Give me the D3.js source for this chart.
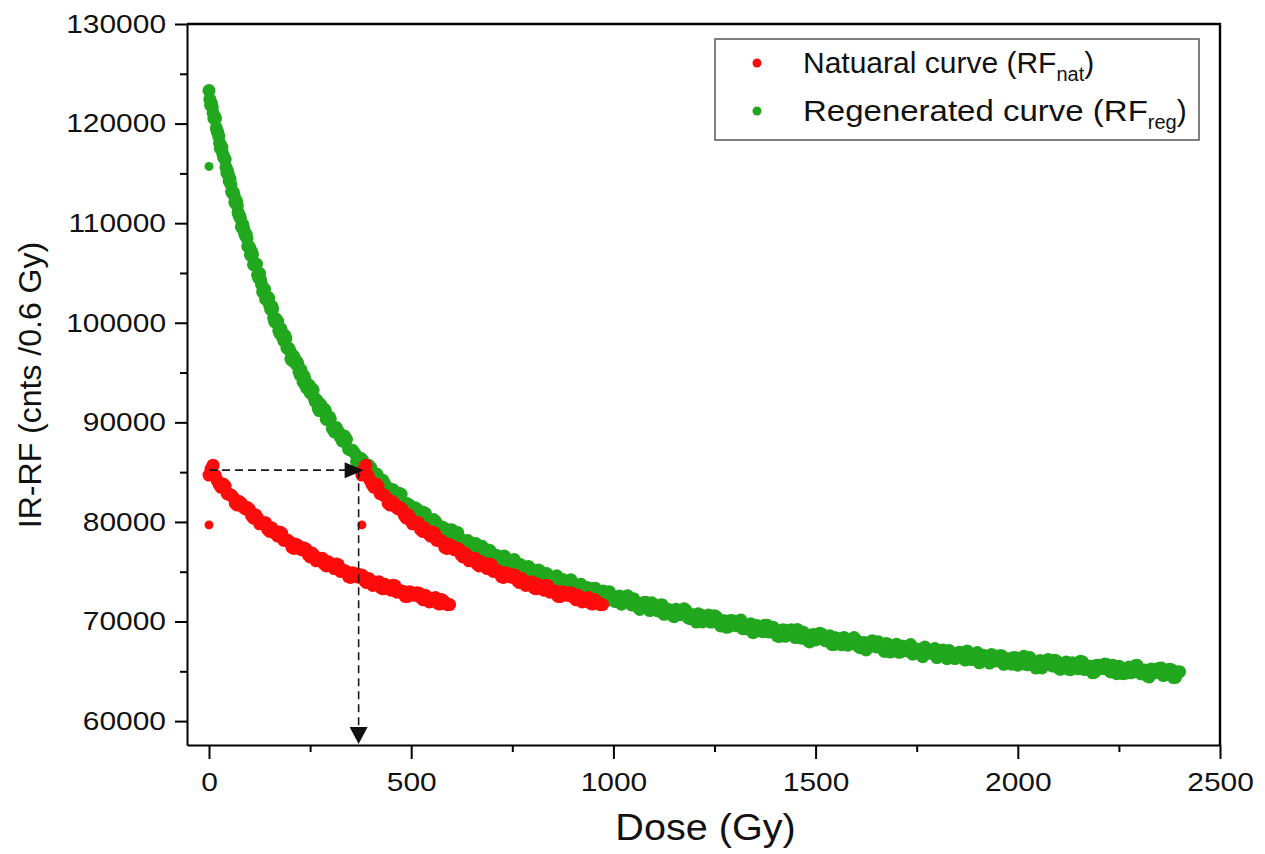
<!DOCTYPE html>
<html>
<head>
<meta charset="utf-8">
<script src="https://cdn.jsdelivr.net/npm/d3@7.9.0/dist/d3.min.js"></script>
<style>
  body { margin: 0; background: #fff; }
  svg { display: block; font-family: "Liberation Sans", Arial, sans-serif; }
</style>
</head>
<body>
<svg id="chart" width="1265" height="854"></svg>
<script>
// --- data: [dose (Gy), IR-RF counts] ---
const regCurve = [
  [0,123310],[4,121830],[8,121670],[12,120510],[16,120520],[20,119240],[24,118740],[28,117520],[32,117590],[36,116630],
  [40,116400],[44,115060],[48,114880],[52,114460],[56,113120],[60,113110],[64,112090],[68,112230],[72,111090],[76,110720],
  [80,109630],[84,109830],[88,109000],[92,108890],[96,107670],[100,107610],[105,107180],[110,105840],[115,105830],[120,104810],
  [125,104960],[130,103820],[135,103450],[140,102370],[145,102580],[150,101760],[155,101670],[160,100460],[165,100420],[170,100130],
  [175,98930],[180,99050],[185,98170],[190,98440],[195,97420],[200,97190],[205,96230],[210,96550],[215,95850],[220,95870],
  [225,94770],[230,94840],[235,94650],[240,93560],[245,93770],[250,92990],[255,93360],[260,92440],[265,92290],[270,91420],
  [275,91840],[280,91220],[285,91330],[290,90310],[295,90460],[300,90350],[310,89040],[320,89070],[330,88100],[340,88300],
  [350,87220],[360,86920],[370,85910],[380,86190],[390,85450],[400,85450],[410,84330],[420,84380],[430,84180],[440,83070],
  [450,83290],[460,82510],[470,82890],[480,81970],[490,81840],[500,80990],[510,81420],[520,80830],[530,80960],[540,79970],
  [550,80150],[560,80070],[570,79080],[580,79410],[590,78740],[600,79220],[610,78410],[620,78370],[630,77610],[640,78130],
  [650,77620],[660,77830],[670,76920],[680,77180],[690,77170],[700,76260],[710,76650],[720,76040],[730,76590],[740,75830],
  [750,75850],[760,75150],[770,75730],[780,75270],[790,75530],[800,74670],[810,74970],[820,75010],[830,74130],[840,74570],
  [850,74000],[860,74590],[870,73870],[880,73930],[890,73260],[900,73870],[910,73440],[920,73740],[930,72910],[940,73240],
  [950,73310],[960,72470],[970,72930],[980,72390],[990,73000],[1000,72310],[1010,72390],[1020,71740],[1030,72380],[1040,71980],
  [1050,72290],[1060,71480],[1070,71840],[1080,71930],[1090,71100],[1100,71590],[1110,71060],[1120,71690],[1130,71020],[1140,71120],
  [1150,70490],[1160,71140],[1170,70750],[1180,71090],[1190,70290],[1200,70660],[1210,70770],[1220,69950],[1230,70450],[1240,69940],
  [1250,70590],[1260,69930],[1270,70040],[1280,69420],[1290,70090],[1300,69710],[1310,70060],[1320,69280],[1330,69650],[1340,69770],
  [1350,68970],[1360,69480],[1370,68980],[1380,69630],[1390,68990],[1400,69110],[1410,68500],[1420,69180],[1430,68810],[1440,69170],
  [1450,68390],[1460,68780],[1470,68910],[1480,68120],[1490,68640],[1500,68150],[1510,68810],[1520,68170],[1530,68300],[1540,67700],
  [1550,68380],[1560,68030],[1570,68390],[1580,67620],[1590,68020],[1600,68150],[1610,67370],[1620,67900],[1630,67410],[1640,68080],
  [1650,67450],[1660,67590],[1670,67000],[1680,67690],[1690,67340],[1700,67710],[1710,66950],[1720,67350],[1730,67490],[1740,66710],
  [1750,67250],[1760,66770],[1770,67440],[1780,66820],[1790,66960],[1800,66380],[1810,67070],[1820,66730],[1830,67100],[1840,66350],
  [1850,66760],[1860,66900],[1870,66130],[1880,66670],[1890,66200],[1900,66880],[1910,66260],[1920,66410],[1930,65830],[1940,66530],
  [1950,66190],[1960,66570],[1970,65820],[1980,66230],[1990,66390],[2000,65620],[2010,66160],[2020,65700],[2030,66380],[2040,65760],
  [2050,65920],[2060,65340],[2070,66050],[2080,65710],[2090,66100],[2100,65350],[2110,65770],[2120,65930],[2130,65160],[2140,65710],
  [2150,65250],[2160,65940],[2170,65330],[2180,65480],[2190,64910],[2200,65620],[2210,65290],[2220,65680],[2230,64940],[2240,65360],
  [2250,65520],[2260,64760],[2270,65310],[2280,64850],[2290,65550],[2300,64940],[2310,65100],[2320,64530],[2330,65240],[2340,64920],
  [2350,65310],[2360,64570],[2370,65000],[2380,65160],[2390,64400],[2400,64960]
];

// in-between readings of the same band
const regCurveMid = [
  [2,122435],[6,122025],[10,121070],[14,120690],[18,119570],[22,119070],[26,118060],[30,117780],[34,116970],[38,116550],
  [42,115600],[46,115250],[50,114220],[54,113910],[58,113050],[62,112800],[66,111990],[70,111760],[74,110790],[78,110430],
  [82,109560],[86,109420],[90,108750],[94,108460],[98,107640],
  [102.5,106800],[107.5,106860],[112.5,105820],[117.5,105900],[122.5,104500],[127.5,104320],[132.5,103110],[137.5,103360],
  [142.5,102530],[147.5,102470],[152.5,101340],[157.5,101390],[162.5,100080],[167.5,100190],[172.5,99210],[177.5,99410],
  [182.5,98510],[187.5,98730],[192.5,97470],[197.5,97430],[202.5,96360],[207.5,96740],[212.5,96030],[217.5,96100],
  [222.5,95090],[227.5,95260],[232.5,94060],[237.5,94290],[242.5,93420],[247.5,93730],[252.5,92940],[257.5,93260],
  [262.5,92100],[267.5,92160],[272.5,91180],[277.5,91660],[282.5,91040],[287.5,91200],[292.5,90280],[297.5,90540],
  [305,89370],[315,89480],[325,88490],[335,88630],[345,87300],[355,87190],[365,86060],[375,86400],[385,85650],[395,85690],
  [405,84650],[415,84810],[425,83590],[435,83810],[445,82930],[455,83240],[465,82460],[475,82790],[485,81640],[495,81710],
  [505,80760],[515,81260],[525,80660],[535,80850],[545,79950],[555,80240],[565,79160],[575,79510],[585,78750],[595,79180],
  [605,78500],[615,78940],[625,77900],[635,78070],[645,77210],[655,77800],[665,77290],[675,77570],[685,76750],[695,77120],
  [705,76110],[715,76530],[725,75840],[735,76340],[745,75730],[755,76230],[765,75250],[775,75480],[785,74670],[795,75310],
  [805,74860],[815,75180],[825,74420],[835,74830],[845,73870],[855,74330],[865,73690],[875,74220],[885,73650],[895,74190],
  [905,73250],[915,73510],[925,72740],[935,73420],[945,73000],[955,73350],[965,72620],[975,73060],[985,72130],[995,72620],
  [1005,72000],[1015,72570],[1025,72020],[1035,72590],[1045,71670],[1055,71950],[1065,71210],[1075,71910],[1085,71510],[1095,71880],
  [1105,71170],[1115,71640],[1125,70720],[1135,71230],[1145,70630],[1155,71220],[1165,70690],[1175,71270],[1185,70370],[1195,70670],
  [1205,69940],[1215,70660],[1225,70270],[1235,70660],[1245,69970],[1255,70450],[1265,69550],[1275,70070],[1285,69490],[1295,70080],
  [1305,69570],[1315,70160],[1325,69270],[1335,69590],[1345,68870],[1355,69600],[1365,69230],[1375,69630],[1385,68940],[1395,69430],
  [1405,68550],[1415,69080],[1425,68510],[1435,69110],[1445,68610],[1455,69210],[1465,68330],[1475,68660],[1485,67950],[1495,68690],
  [1505,68330],[1515,68740],[1525,68060],[1535,68560],[1545,67680],[1555,68230],[1565,67660],[1575,68270],[1585,67780],[1595,68390],
  [1605,67520],[1615,67850],[1625,67150],[1635,67900],[1645,67540],[1655,67960],[1665,67290],[1675,67800],[1685,66930],[1695,67480],
  [1705,66920],[1715,67540],[1725,67060],[1735,67680],[1745,66810],[1755,67150],[1765,66460],[1775,67210],[1785,66860],[1795,67290],
  [1805,66620],[1815,67140],[1825,66270],[1835,66830],[1845,66280],[1855,66910],[1865,66420],[1875,67050],[1885,66190],[1895,66540],
  [1905,65850],[1915,66610],[1925,66270],[1935,66700],[1945,66040],[1955,66560],[1965,65700],[1975,66260],[1985,65720],[1995,66350],
  [2005,65870],[2015,66500],[2025,65650],[2035,66000],[2045,65320],[2055,66080],[2065,65750],[2075,66180],[2085,65530],[2095,66050],
  [2105,65200],[2115,65760],[2125,65220],[2135,65860],[2145,65390],[2155,66020],[2165,65170],[2175,65530],[2185,64850],[2195,65620],
  [2205,65290],[2215,65730],[2225,65080],[2235,65610],[2245,64760],[2255,65330],[2265,64790],[2275,65430],[2285,64960],[2295,65600],
  [2305,64750],[2315,65120],[2325,64440],[2335,65210],[2345,64880],[2355,65330],[2365,64680],[2375,65210],[2385,64370],[2395,64940]
];

const natCurve = [
  [0,84700],[10,85700],[20,84190],[30,83470],[40,83610],[50,82760],[60,82480],[70,81690],[80,81870],[90,81310],
  [100,81270],[110,80370],[120,80410],[130,79830],[140,79910],[150,79040],[160,79150],[170,78580],[180,78860],[190,78150],
  [200,77990],[210,77340],[220,77640],[230,77200],[240,77280],[250,76490],[260,76640],[270,76170],[280,76360],[290,75580],
  [300,75800],[310,75320],[320,75690],[330,75070],[340,75000],[350,74430],[360,74820],[370,74450],[380,74620],[390,73910],
  [400,74130],[410,73730],[420,73990],[430,73280],[440,73560],[450,73140],[460,73580],[470,73020],[480,73010],[490,72500],
  [500,72940],[510,72630],[520,72840],[530,72180],[540,72460],[550,72100],[560,72410],[570,71750],[580,72070],[590,71690],
  [595,71700]
];

const natCurveMid = [
  [5,85300],[15,84700],[25,83770],[35,83820],[45,82840],[55,82700],[65,81860],[75,82050],[85,81470],[95,81440],
  [105,80650],[115,80710],[125,79810],[135,79910],[145,79250],[155,79410],[165,78810],[175,79000],[185,78150],[195,78150],
  [205,77440],[215,77750],[225,77300],[235,77390],[245,76720],[255,76880],[265,76090],[275,76300],[285,75750],[295,76000],
  [305,75500],[315,75780],[325,75030],[335,75120],[345,74500],[355,74890],[365,74520],[375,74690],[385,74090],[395,74330],
  [405,73620],[415,73900],[425,73410],[435,73740],[445,73300],[455,73640],[465,72950],[475,73100],[485,72530],[495,72980],
  [505,72660],[515,72890],[525,72340],[535,72630],[545,71970],[555,72290],[565,71850],[575,72220],[585,71830]
];

// stray first-channel readings
const regOutliers = [[0,115700]];
const natOutliers = [[0,79700]];

// natural curve slid along the dose axis onto the regenerated curve
const natShift = 378;
const equivDose = 370;
const natSignal = 85200;

const xTicks = [0, 500, 1000, 1500, 2000, 2500];
const xMinor = [250, 750, 1250, 1750, 2250];
const yTicks = [60000, 70000, 80000, 90000, 100000, 110000, 120000, 130000];
const yMinor = [65000, 75000, 85000, 95000, 105000, 115000, 125000];

const legendItems = [
  { label: 'Natuaral curve (RF', sub: 'nat', color: '#ff0b0b', widen: 1.0 },
  { label: 'Regenerated curve (RF', sub: 'reg', color: '#21a81e', widen: 1.1 },
];

// --- layout ---
const plotLeft = 187, plotRight = 1220, plotTop = 24, plotBottom = 745;
const dotR = 6.5, strayR = 4.5;

const x = d3.scaleLinear().domain([-54.4, 2500]).range([plotLeft, plotRight]);
const y = d3.scaleLinear().domain([57600, 130000]).range([plotBottom, plotTop]);

const svg = d3.select('#chart');

// widen glyphs a little, the source figure was stretched sideways
function stretch(sel, k) {
  sel.each(function () {
    const w = this.getComputedTextLength();
    d3.select(this).attr('textLength', w * k).attr('lengthAdjust', 'spacingAndGlyphs');
  });
}

function drawDots(data, r, color) {
  svg.append('g')
    .selectAll('circle')
    .data(data)
    .join('circle')
    .attr('cx', d => x(d[0]))
    .attr('cy', d => y(d[1]))
    .attr('r', r)
    .attr('fill', color);
}

const shifted = pts => pts.map(d => [d[0] + natShift, d[1]]);

// regenerated curve first, natural points drawn over it
const green = legendItems[1].color, red = legendItems[0].color;
drawDots(regCurve.concat(regCurveMid), dotR, green);
drawDots(regOutliers, strayR, green);

const natPoints = natCurve.concat(natCurveMid);
drawDots(natPoints.concat(shifted(natPoints)), dotR, red);
drawDots(natOutliers.concat(shifted(natOutliers)), strayR, red);

// --- dashed arrows (natural signal -> equivalent dose) ---
const arrows = svg.append('g')
  .attr('stroke', '#1a1a1a')
  .attr('stroke-width', 1.6)
  .attr('stroke-dasharray', '8,5')
  .attr('fill', 'none');

const ax = x(equivDose), ay = y(natSignal);
arrows.append('line')
  .attr('x1', x(0)).attr('y1', ay)
  .attr('x2', ax - 4).attr('y2', ay);
arrows.append('line')
  .attr('x1', ax).attr('y1', ay)
  .attr('x2', ax).attr('y2', plotBottom - 16);

svg.append('path')
  .attr('d', `M${ax - 14},${ay - 8}L${ax + 5},${ay}L${ax - 14},${ay + 8}Z`)
  .attr('fill', '#111');
svg.append('path')
  .attr('d', `M${ax - 9},${plotBottom - 18}L${ax + 9},${plotBottom - 18}L${ax},${plotBottom - 1}Z`)
  .attr('fill', '#111');

// --- axes ---
svg.append('g')
  .attr('transform', `translate(0,${plotBottom})`)
  .call(d3.axisBottom(x).tickValues(xTicks).tickSize(14).tickSizeOuter(0).tickPadding(14).tickFormat(d3.format('d')));

svg.append('g')
  .attr('transform', `translate(0,${plotBottom})`)
  .call(d3.axisBottom(x).tickValues(xMinor).tickSize(7).tickSizeOuter(0).tickFormat(''))
  .select('.domain').remove();

svg.append('g')
  .attr('transform', `translate(${plotLeft},0)`)
  .call(d3.axisLeft(y).tickValues(yTicks).tickSize(12).tickSizeOuter(0).tickPadding(9).tickFormat(d3.format('d')));

svg.append('g')
  .attr('transform', `translate(${plotLeft},0)`)
  .call(d3.axisLeft(y).tickValues(yMinor).tickSize(7).tickSizeOuter(0).tickFormat(''))
  .select('.domain').remove();

svg.selectAll('.domain, .tick line')
  .attr('stroke', '#000')
  .attr('stroke-width', 2);

svg.selectAll('.tick text')
  .attr('fill', '#111')
  .style('font-size', '26px')
  .style('font-family', '"Liberation Sans", Arial, sans-serif')
  .call(stretch, 1.15);

// top and right frame
svg.append('path')
  .attr('d', `M${plotLeft},${plotTop}H${plotRight}V${plotBottom}`)
  .attr('fill', 'none')
  .attr('stroke', '#000')
  .attr('stroke-width', 2.4);

// --- axis titles ---
svg.append('text')
  .attr('x', (plotLeft + plotRight) / 2 + 2)
  .attr('y', 840)
  .attr('text-anchor', 'middle')
  .style('font-size', '36px')
  .attr('fill', '#111')
  .text('Dose (Gy)')
  .call(stretch, 1.1);

svg.append('text')
  .attr('transform', `translate(41,385) rotate(-90)`)
  .attr('text-anchor', 'middle')
  .style('font-size', '32px')
  .attr('fill', '#111')
  .text('IR-RF (cnts /0.6 Gy)');

// --- legend ---
const legend = svg.append('g');
legend.append('rect')
  .attr('x', 715).attr('y', 39)
  .attr('width', 484).attr('height', 101)
  .attr('fill', '#fff')
  .attr('stroke', '#555')
  .attr('stroke-width', 1.5);

legendItems.forEach((item, i) => {
  const ly = 63 + i * 48;
  legend.append('circle')
    .attr('cx', 757).attr('cy', ly)
    .attr('r', 4.5)
    .attr('fill', item.color);
  const t = legend.append('text')
    .attr('x', 803).attr('y', ly + 10)
    .style('font-size', '30px')
    .attr('fill', '#111');
  t.append('tspan').text(item.label).call(stretch, item.widen);
  t.append('tspan').attr('dy', 8).style('font-size', '20px').text(item.sub);
  t.append('tspan').attr('dy', -8).text(')');
});
</script>
</body>
</html>
